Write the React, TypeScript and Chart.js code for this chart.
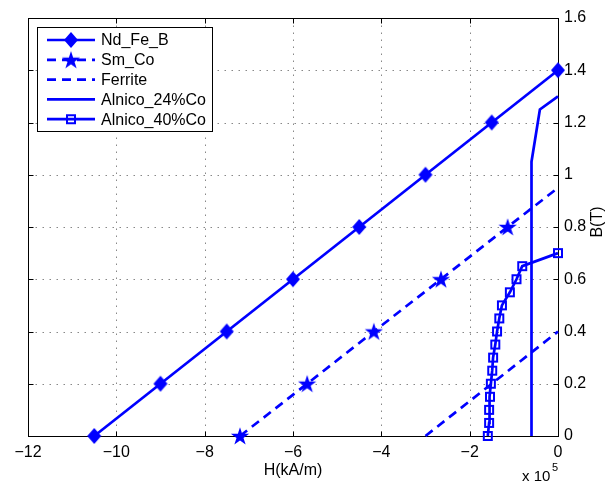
import React, { useEffect, useRef } from 'react';
import { Chart, registerables } from 'chart.js';

Chart.register(...registerables);

// ---- data (H in units of 1e5 kA/m, B in T) ----
const ndFeB_H = [-10.5, -9, -7.5, -6, -4.5, -3, -1.5, 0];
const ndFeB_B = [0, 0.2, 0.4, 0.6, 0.8, 1.0, 1.2, 1.4];

const smCo_H = [-7.2, -5.68, -4.17, -2.65, -1.14, 0];
const smCo_B = [0, 0.2, 0.4, 0.6, 0.8, 0.95];
const smCo_marker = [1, 1, 1, 1, 1, 0];

const ferrite_H = [-3, 0];
const ferrite_B = [0, 0.4];

const alnico24_H = [-0.6, -0.6, -0.41, 0];
const alnico24_B = [0, 1.05, 1.25, 1.3];

const alnico40_H = [-1.59, -1.56, -1.56, -1.54, -1.52, -1.49, -1.47, -1.42, -1.38, -1.33, -1.27, -1.09, -0.94, -0.81, 0];
const alnico40_B = [0, 0.05, 0.1, 0.15, 0.2, 0.25, 0.3, 0.35, 0.4, 0.45, 0.5, 0.55, 0.6, 0.65, 0.7];

const seriesNames = ['Nd_Fe_B', 'Sm_Co', 'Ferrite', 'Alnico_24%Co', 'Alnico_40%Co'];

const xMin = -12;
const xMax = 0;
const xStep = 2;
const yMin = 0;
const yMax = 1.6;
const yStep = 0.2;

const xLabel = 'H(kA/m)';
const yLabel = 'B(T)';
const xExponent = '5';

const BLUE = '#0000ff';
const FONT = '"Liberation Sans", Arial, Helvetica, sans-serif';

function pts(h: number[], b: number[]) {
  return h.map((x, i) => ({ x, y: b[i] }));
}

function makeDiamond() {
  const c = document.createElement('canvas');
  c.width = 16; c.height = 18;
  const g = c.getContext('2d')!;
  g.fillStyle = BLUE;
  g.beginPath();
  g.moveTo(8, 1); g.lineTo(15, 9); g.lineTo(8, 17); g.lineTo(1, 9);
  g.closePath(); g.fill();
  return c;
}

function makeStar() {
  const c = document.createElement('canvas');
  c.width = 22; c.height = 22;
  const g = c.getContext('2d')!;
  g.fillStyle = BLUE;
  const cx = 11, cy = 11.8, R = 9.6, r = R * 0.382;
  g.beginPath();
  for (let i = 0; i < 10; i++) {
    const ang = -Math.PI / 2 + (i * Math.PI) / 5;
    const rad = i % 2 === 0 ? R : r;
    const px = cx + rad * Math.cos(ang), py = cy + rad * Math.sin(ang);
    if (i === 0) g.moveTo(px, py); else g.lineTo(px, py);
  }
  g.closePath(); g.fill();
  return c;
}

function makeSquare() {
  const c = document.createElement('canvas');
  c.width = 12; c.height = 12;
  const g = c.getContext('2d')!;
  g.strokeStyle = BLUE;
  g.lineWidth = 2;
  g.strokeRect(2, 2, 8, 8);
  return c;
}

export default function App() {
  const ref = useRef<HTMLCanvasElement>(null);

  useEffect(() => {
    document.body.style.margin = '0';
    const diamond = makeDiamond();
    const star = makeStar();
    const square = makeSquare();
    const markers: (HTMLCanvasElement | null)[] = [diamond, star, null, null, square];

    const framePlugin = {
      id: 'frame',
      beforeDatasetsDraw(chart: any) {
        const { ctx, chartArea: a, scales } = chart;
        const xs = scales.x, ys = scales.y;
        const L = Math.round(a.left) + 0.5, R = Math.round(a.right) + 0.5;
        const T = Math.round(a.top) + 0.5, B = Math.round(a.bottom) + 0.5;
        ctx.save();
        ctx.lineWidth = 1;
        ctx.strokeStyle = '#888888';
        ctx.setLineDash([1.5, 5.5]);
        xs.ticks.forEach((t: any) => {
          const p = Math.round(xs.getPixelForValue(t.value)) + 0.5;
          if (p > L + 1 && p < R - 1) {
            ctx.beginPath(); ctx.moveTo(p, T); ctx.lineTo(p, B); ctx.stroke();
          }
        });
        ys.ticks.forEach((t: any) => {
          const p = Math.round(ys.getPixelForValue(t.value)) + 0.5;
          if (p > T + 1 && p < B - 1) {
            ctx.beginPath(); ctx.moveTo(L, p); ctx.lineTo(R, p); ctx.stroke();
          }
        });
        ctx.setLineDash([]);
        ctx.strokeStyle = '#000';
        ctx.strokeRect(L, T, R - L, B - T);
        const tl = 5;
        xs.ticks.forEach((t: any) => {
          const p = Math.round(xs.getPixelForValue(t.value)) + 0.5;
          ctx.beginPath();
          ctx.moveTo(p, B); ctx.lineTo(p, B - tl);
          ctx.moveTo(p, T); ctx.lineTo(p, T + tl);
          ctx.stroke();
        });
        ys.ticks.forEach((t: any) => {
          const p = Math.round(ys.getPixelForValue(t.value)) + 0.5;
          ctx.beginPath();
          ctx.moveTo(L, p); ctx.lineTo(L + tl, p);
          ctx.moveTo(R, p); ctx.lineTo(R - tl, p);
          ctx.stroke();
        });
        ctx.restore();
      },
      afterDraw(chart: any) {
        const { ctx, chartArea: a } = chart;
        ctx.save();
        ctx.fillStyle = '#000';
        ctx.font = `16px ${FONT}`;
        ctx.textAlign = 'center';
        ctx.textBaseline = 'middle';
        ctx.fillText(xLabel, (a.left + a.right) / 2, 471);
        ctx.save();
        ctx.translate(598, (a.top + a.bottom) / 2 - 5);
        ctx.rotate(-Math.PI / 2);
        ctx.fillText(yLabel, 0, 0);
        ctx.restore();
        // exponent
        ctx.textAlign = 'left';
        ctx.font = `15px ${FONT}`;
        ctx.fillText('x 10', 522, 477);
        ctx.font = `11px ${FONT}`;
        ctx.fillText(xExponent, 552, 468);

        // legend
        const bx = 37.5, by = 27.5, bw = 175, bh = 104;
        ctx.fillStyle = '#fff';
        ctx.fillRect(bx, by, bw, bh);
        ctx.strokeStyle = '#000';
        ctx.lineWidth = 1;
        ctx.strokeRect(bx, by, bw, bh);
        chart.data.datasets.forEach((ds: any, i: number) => {
          const y = 40 + 19.8 * i;
          ctx.save();
          ctx.strokeStyle = ds.borderColor;
          ctx.lineWidth = ds.borderWidth;
          ctx.setLineDash(ds.borderDash || []);
          ctx.lineCap = 'butt';
          ctx.beginPath(); ctx.moveTo(47, y); ctx.lineTo(95, y); ctx.stroke();
          ctx.restore();
          const m = markers[i];
          if (m) ctx.drawImage(m, 71 - m.width / 2, y - m.height / 2);
          ctx.fillStyle = '#000';
          ctx.font = `16px ${FONT}`;
          ctx.textAlign = 'left';
          ctx.textBaseline = 'middle';
          ctx.fillText(ds.label, 101, y + 1);
        });
        ctx.restore();
      },
    };

    const base = {
      borderColor: BLUE,
      backgroundColor: BLUE,
      borderWidth: 2.7,
      fill: false,
      tension: 0,
      clip: false as any,
      showLine: true,
      borderCapStyle: 'butt' as const,
      borderJoinStyle: 'miter' as const,
    };

    const chart = new Chart(ref.current!, {
      type: 'line',
      data: {
        datasets: [
          { ...base, label: seriesNames[0], data: pts(ndFeB_H, ndFeB_B), pointStyle: diamond as any, pointRadius: 6, order: 0 },
          { ...base, label: seriesNames[1], data: pts(smCo_H, smCo_B), borderDash: [9, 6], pointStyle: star as any, pointRadius: smCo_marker.map((m) => (m ? 6 : 0)), order: -1 },
          { ...base, label: seriesNames[2], data: pts(ferrite_H, ferrite_B), borderDash: [9, 6], pointRadius: 0, order: -2 },
          { ...base, label: seriesNames[3], data: pts(alnico24_H, alnico24_B), pointRadius: 0, order: -3 },
          { ...base, label: seriesNames[4], data: pts(alnico40_H, alnico40_B), pointStyle: square as any, pointRadius: 5, order: -4 },
        ] as any,
      },
      options: {
        responsive: false,
        animation: false,
        devicePixelRatio: 1,
        layout: { padding: { left: 28, top: 18, right: 0, bottom: 0 } },
        plugins: { legend: { display: false }, tooltip: { enabled: false } },
        scales: {
          x: {
            type: 'linear',
            min: xMin,
            max: xMax,
            grid: { display: false, drawTicks: false },
            border: { display: false },
            ticks: {
              stepSize: xStep,
              color: '#000',
              padding: 7,
              maxRotation: 0,
              font: { family: FONT, size: 16 },
              callback: (v: any) => (v < 0 ? '\u2212' + Math.abs(v) : String(v)),
            },
            afterFit: (s: any) => { s.height = 47; },
          },
          y: {
            type: 'linear',
            position: 'right',
            min: yMin,
            max: yMax,
            grid: { display: false, drawTicks: false },
            border: { display: false },
            ticks: {
              stepSize: yStep,
              color: '#000',
              padding: 6,
              font: { family: FONT, size: 16 },
              callback: (v: any) => String(Math.round(v * 10) / 10),
            },
            afterFit: (s: any) => { s.width = 48; },
          },
        },
      } as any,
      plugins: [framePlugin],
    });
    return () => chart.destroy();
  }, []);

  return <canvas ref={ref} width={606} height={483} style={{ display: 'block', width: 606, height: 483 }} />;
}
